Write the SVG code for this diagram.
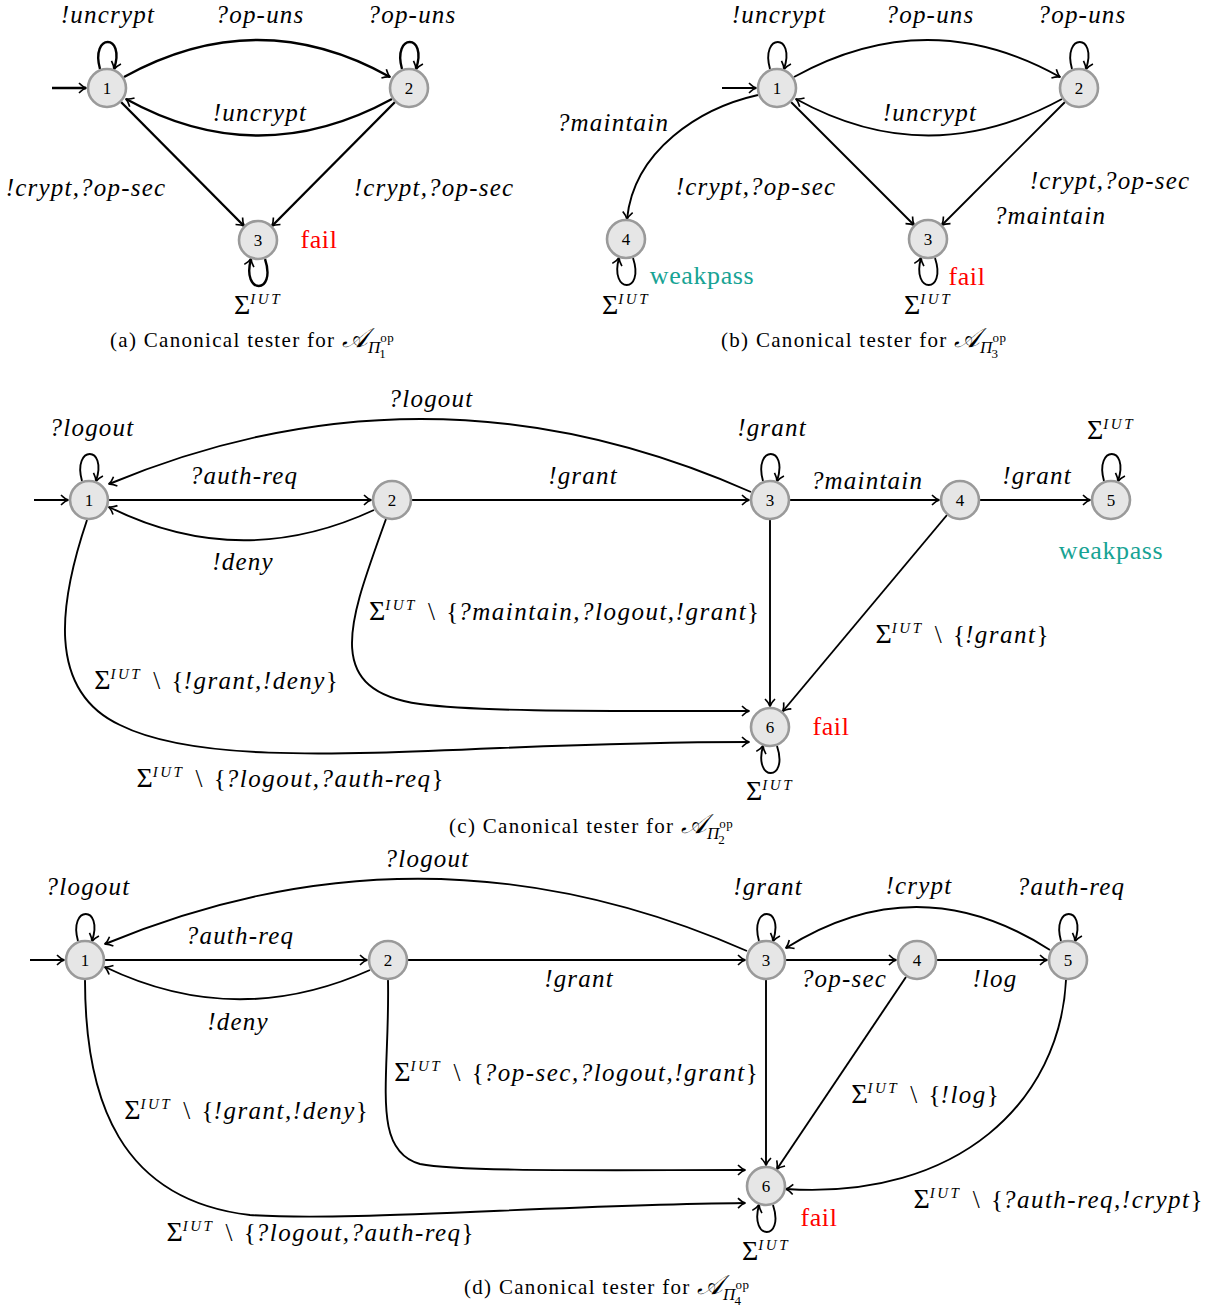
<svg xmlns="http://www.w3.org/2000/svg" width="1217" height="1309" viewBox="0 0 1217 1309">
<style>
.nd{fill:#e6e6e6;stroke:#9a9a9a;stroke-width:2.6}
.nt{font-family:"Liberation Serif",serif;font-size:17px;text-anchor:middle}
.e{fill:none;stroke:#000;stroke-width:1.9;marker-end:url(#ar)}
.ea{fill:none;stroke:#000;stroke-width:2.4;marker-end:url(#ar)}
.l{font-family:"Liberation Serif",serif;font-size:25px;font-style:italic;letter-spacing:1.2px;text-anchor:middle}
.s{font-family:"Liberation Serif",serif;font-size:25px;text-anchor:middle}
.sg{font-size:28px}
.i{font-style:italic;letter-spacing:1.5px}
.sup{font-style:italic;font-size:15px;letter-spacing:2.5px}
.bs{word-spacing:5px}
.fail{font-family:"Liberation Serif",serif;font-size:26px;letter-spacing:0.6px;fill:#ff0000;text-anchor:middle}
.wp{font-family:"Liberation Serif",serif;font-size:26px;letter-spacing:0.6px;fill:#17a394;text-anchor:middle}
.cap{font-family:"Liberation Serif",serif;font-size:21px;letter-spacing:1.3px}
.ca{font-family:"DejaVu Serif",serif;font-style:italic;font-size:27px;letter-spacing:0}
.cp{font-style:italic;font-size:17px;letter-spacing:0}
.co{font-size:13px;letter-spacing:0.5px}
.cn{font-size:13px;letter-spacing:0}
</style>
<defs>
<marker id="ar" markerWidth="12" markerHeight="12" viewBox="-10 -6 12 12" refX="0" refY="0" orient="auto" markerUnits="userSpaceOnUse">
<path d="M -7,-5 C -4,-2 -1.5,-0.5 0.5,0 C -1.5,0.5 -4,2 -7,5" fill="none" stroke="#000" stroke-width="1.6"/>
</marker>
</defs>

<!-- Panel (a) -->
<g id="conn-a">
<path class="ea" d="M 52,88 L 86,88"/>
<path class="ea" d="M 100,69 C 90,33 126,33 114,69"/>
<path class="ea" d="M 402,69 C 392,33 428,33 416,69"/>
<path class="ea" d="M 265,259 C 277,295 241,295 251,259"/>
<path class="ea" d="M 124,77 Q 258,3 390,77"/>
<path class="ea" d="M 392,99 Q 258,172 126,99"/>
<path class="ea" d="M 121,102 L 244,226"/>
<path class="ea" d="M 395,102 L 272,226"/>
</g>
<g id="a1"><circle class="nd" cx="107" cy="88" r="19"/><text class="nt" x="107" y="94">1</text></g>
<g id="a2"><circle class="nd" cx="409" cy="88" r="19"/><text class="nt" x="409" y="94">2</text></g>
<g id="a3"><circle class="nd" cx="258" cy="240" r="19"/><text class="nt" x="258" y="246">3</text></g>
<g id="labels-a">
<text class="l" x="108" y="23">!uncrypt</text>
<text class="l" x="260" y="23">?op-uns</text>
<text class="l" x="412" y="23">?op-uns</text>
<text class="l" x="260" y="121">!uncrypt</text>
<text class="l" x="86" y="196">!crypt,?op-sec</text>
<text class="l" x="434" y="196">!crypt,?op-sec</text>
<text class="fail" x="319" y="248">fail</text>
<text class="s" x="258" y="314"><tspan class="sg">Σ</tspan><tspan class="sup" dy="-10">IUT</tspan></text>
<text class="cap" x="110" y="347">(a) Canonical tester for <tspan class="ca">𝒜</tspan><tspan class="cp" dy="6">Π</tspan><tspan class="co" dy="-11">op</tspan><tspan class="cn" dx="-15" dy="16">1</tspan></text>
</g>

<!-- Panel (b) -->
<g id="conn-b">
<path class="e" d="M 722,88 L 756,88"/>
<path class="e" d="M 770,69 C 760,33 796,33 784,69"/>
<path class="e" d="M 1072,69 C 1062,33 1098,33 1086,69"/>
<path class="e" d="M 633,258 C 645,294 609,294 619,258"/>
<path class="e" d="M 935,258 C 947,294 911,294 921,258"/>
<path class="e" d="M 794,77 Q 928,3 1060,77"/>
<path class="e" d="M 1062,99 Q 928,172 796,99"/>
<path class="e" d="M 791,102 L 914,225"/>
<path class="e" d="M 1065,102 L 942,225"/>
<path class="e" d="M 758,95 C 700,108 634,150 627,219"/>
</g>
<g id="b1"><circle class="nd" cx="777" cy="88" r="19"/><text class="nt" x="777" y="94">1</text></g>
<g id="b2"><circle class="nd" cx="1079" cy="88" r="19"/><text class="nt" x="1079" y="94">2</text></g>
<g id="b3"><circle class="nd" cx="928" cy="239" r="19"/><text class="nt" x="928" y="245">3</text></g>
<g id="b4"><circle class="nd" cx="626" cy="239" r="19"/><text class="nt" x="626" y="245">4</text></g>
<g id="labels-b">
<text class="l" x="779" y="23">!uncrypt</text>
<text class="l" x="930" y="23">?op-uns</text>
<text class="l" x="1082" y="23">?op-uns</text>
<text class="l" x="930" y="121">!uncrypt</text>
<text class="l" x="613" y="131">?maintain</text>
<text class="l" x="756" y="195">!crypt,?op-sec</text>
<text class="l" x="1110" y="189">!crypt,?op-sec</text>
<text class="l" x="1050" y="224">?maintain</text>
<text class="wp" x="702" y="284">weakpass</text>
<text class="fail" x="967" y="285">fail</text>
<text class="s" x="626" y="314"><tspan class="sg">Σ</tspan><tspan class="sup" dy="-10">IUT</tspan></text>
<text class="s" x="928" y="314"><tspan class="sg">Σ</tspan><tspan class="sup" dy="-10">IUT</tspan></text>
<text class="cap" x="721" y="347">(b) Canonical tester for <tspan class="ca">𝒜</tspan><tspan class="cp" dy="6">Π</tspan><tspan class="co" dy="-11">op</tspan><tspan class="cn" dx="-15" dy="16">3</tspan></text>
</g>

<!-- Panel (c) -->
<g id="conn-c">
<path class="e" d="M 34,500 L 68,500"/>
<path class="e" d="M 82,481 C 72,445 108,445 96,481"/>
<path class="e" d="M 763,481 C 753,445 789,445 777,481"/>
<path class="e" d="M 1104,481 C 1094,445 1130,445 1118,481"/>
<path class="e" d="M 777,746 C 789,782 753,782 763,746"/>
<path class="e" d="M 109,500 L 371,500"/>
<path class="e" d="M 374,510 Q 240,572 109,507"/>
<path class="e" d="M 751,492 Q 430,350 109,484"/>
<path class="e" d="M 412,500 L 749,500"/>
<path class="e" d="M 790,500 L 939,500"/>
<path class="e" d="M 980,500 L 1090,500"/>
<path class="e" d="M 770,520 L 770,706"/>
<path class="e" d="M 947,515 L 783,711"/>
<path class="e" d="M 386,519 C 350,620 320,690 420,704 C 480,712 600,711 749,711"/>
<path class="e" d="M 87,520 C 60,600 45,690 120,725 C 190,760 320,756 500,748 C 600,744 700,742 749,742"/>
</g>
<g id="c1"><circle class="nd" cx="89" cy="500" r="19"/><text class="nt" x="89" y="506">1</text></g>
<g id="c2"><circle class="nd" cx="392" cy="500" r="19"/><text class="nt" x="392" y="506">2</text></g>
<g id="c3"><circle class="nd" cx="770" cy="500" r="19"/><text class="nt" x="770" y="506">3</text></g>
<g id="c4"><circle class="nd" cx="960" cy="500" r="19"/><text class="nt" x="960" y="506">4</text></g>
<g id="c5"><circle class="nd" cx="1111" cy="500" r="19"/><text class="nt" x="1111" y="506">5</text></g>
<g id="c6"><circle class="nd" cx="770" cy="727" r="19"/><text class="nt" x="770" y="733">6</text></g>
<g id="labels-c">
<text class="l" x="92" y="436">?logout</text>
<text class="l" x="431" y="407">?logout</text>
<text class="l" x="772" y="436">!grant</text>
<text class="s" x="1111" y="439"><tspan class="sg">Σ</tspan><tspan class="sup" dy="-10">IUT</tspan></text>
<text class="l" x="244" y="484">?auth-req</text>
<text class="l" x="583" y="484">!grant</text>
<text class="l" x="867" y="489">?maintain</text>
<text class="l" x="1037" y="484">!grant</text>
<text class="l" x="243" y="570">!deny</text>
<text class="wp" x="1111" y="559">weakpass</text>
<text class="fail" x="831" y="735">fail</text>
<text class="s" x="564" y="620"><tspan class="sg">Σ</tspan><tspan class="sup" dy="-10">IUT</tspan><tspan class="bs" dy="10"> \ {</tspan><tspan class="i">?maintain,?logout,!grant</tspan>}</text>
<text class="s" x="962" y="643"><tspan class="sg">Σ</tspan><tspan class="sup" dy="-10">IUT</tspan><tspan class="bs" dy="10"> \ {</tspan><tspan class="i">!grant</tspan>}</text>
<text class="s" x="216" y="689"><tspan class="sg">Σ</tspan><tspan class="sup" dy="-10">IUT</tspan><tspan class="bs" dy="10"> \ {</tspan><tspan class="i">!grant,!deny</tspan>}</text>
<text class="s" x="290" y="787"><tspan class="sg">Σ</tspan><tspan class="sup" dy="-10">IUT</tspan><tspan class="bs" dy="10"> \ {</tspan><tspan class="i">?logout,?auth-req</tspan>}</text>
<text class="s" x="770" y="800"><tspan class="sg">Σ</tspan><tspan class="sup" dy="-10">IUT</tspan></text>
<text class="cap" x="449" y="833">(c) Canonical tester for <tspan class="ca">𝒜</tspan><tspan class="cp" dy="6">Π</tspan><tspan class="co" dy="-11">op</tspan><tspan class="cn" dx="-15" dy="16">2</tspan></text>
</g>

<!-- Panel (d) -->
<g id="conn-d">
<path class="e" d="M 30,960 L 64,960"/>
<path class="e" d="M 78,941 C 68,905 104,905 92,941"/>
<path class="e" d="M 759,941 C 749,905 785,905 773,941"/>
<path class="e" d="M 1061,941 C 1051,905 1087,905 1075,941"/>
<path class="e" d="M 773,1205 C 785,1241 749,1241 759,1205"/>
<path class="e" d="M 105,960 L 367,960"/>
<path class="e" d="M 370,970 Q 236,1030 105,967"/>
<path class="e" d="M 747,951 Q 426,810 105,944"/>
<path class="e" d="M 408,960 L 745,960"/>
<path class="e" d="M 786,960 L 896,960"/>
<path class="e" d="M 937,960 L 1047,960"/>
<path class="e" d="M 1050,950 Q 918,865 786,948"/>
<path class="e" d="M 766,980 L 766,1165"/>
<path class="e" d="M 906,977 L 777,1169"/>
<path class="e" d="M 1066,980 C 1060,1100 960,1200 786,1189"/>
<path class="e" d="M 388,980 C 390,1080 370,1150 420,1164 C 460,1172 600,1170 745,1170"/>
<path class="e" d="M 85,980 C 85,1100 120,1200 250,1215 C 350,1222 550,1205 745,1203"/>
</g>
<g id="d1"><circle class="nd" cx="85" cy="960" r="19"/><text class="nt" x="85" y="966">1</text></g>
<g id="d2"><circle class="nd" cx="388" cy="960" r="19"/><text class="nt" x="388" y="966">2</text></g>
<g id="d3"><circle class="nd" cx="766" cy="960" r="19"/><text class="nt" x="766" y="966">3</text></g>
<g id="d4"><circle class="nd" cx="917" cy="960" r="19"/><text class="nt" x="917" y="966">4</text></g>
<g id="d5"><circle class="nd" cx="1068" cy="960" r="19"/><text class="nt" x="1068" y="966">5</text></g>
<g id="d6"><circle class="nd" cx="766" cy="1186" r="19"/><text class="nt" x="766" y="1192">6</text></g>
<g id="labels-d">
<text class="l" x="88" y="895">?logout</text>
<text class="l" x="427" y="867">?logout</text>
<text class="l" x="768" y="895">!grant</text>
<text class="l" x="919" y="894">!crypt</text>
<text class="l" x="1071" y="895">?auth-req</text>
<text class="l" x="240" y="944">?auth-req</text>
<text class="l" x="579" y="987">!grant</text>
<text class="l" x="844" y="987">?op-sec</text>
<text class="l" x="995" y="987">!log</text>
<text class="l" x="238" y="1030">!deny</text>
<text class="s" x="576" y="1081"><tspan class="sg">Σ</tspan><tspan class="sup" dy="-10">IUT</tspan><tspan class="bs" dy="10"> \ {</tspan><tspan class="i">?op-sec,?logout,!grant</tspan>}</text>
<text class="s" x="925" y="1103"><tspan class="sg">Σ</tspan><tspan class="sup" dy="-10">IUT</tspan><tspan class="bs" dy="10"> \ {</tspan><tspan class="i">!log</tspan>}</text>
<text class="s" x="246" y="1119"><tspan class="sg">Σ</tspan><tspan class="sup" dy="-10">IUT</tspan><tspan class="bs" dy="10"> \ {</tspan><tspan class="i">!grant,!deny</tspan>}</text>
<text class="s" x="1058" y="1208"><tspan class="sg">Σ</tspan><tspan class="sup" dy="-10">IUT</tspan><tspan class="bs" dy="10"> \ {</tspan><tspan class="i">?auth-req,!crypt</tspan>}</text>
<text class="s" x="320" y="1241"><tspan class="sg">Σ</tspan><tspan class="sup" dy="-10">IUT</tspan><tspan class="bs" dy="10"> \ {</tspan><tspan class="i">?logout,?auth-req</tspan>}</text>
<text class="fail" x="819" y="1226">fail</text>
<text class="s" x="766" y="1260"><tspan class="sg">Σ</tspan><tspan class="sup" dy="-10">IUT</tspan></text>
<text class="cap" x="464" y="1294">(d) Canonical tester for <tspan class="ca">𝒜</tspan><tspan class="cp" dy="6">Π</tspan><tspan class="co" dy="-11">op</tspan><tspan class="cn" dx="-15" dy="16">4</tspan></text>
</g>
</svg>
